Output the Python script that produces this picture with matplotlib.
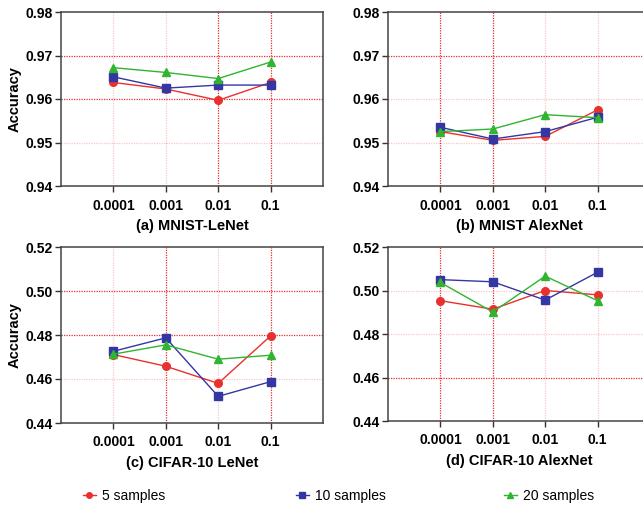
import matplotlib
matplotlib.use("Agg")
import matplotlib.pyplot as plt
from matplotlib.lines import Line2D

plt.rcParams['font.family'] = ['Liberation Sans', 'DejaVu Sans']

lr_labels = ["0.0001", "0.001", "0.01", "0.1"]
series_names = ["5 samples", "10 samples", "20 samples"]

mnist_lenet_5 = [0.9638, 0.9623, 0.9597, 0.9638]
mnist_lenet_10 = [0.9651, 0.9625, 0.9632, 0.9632]
mnist_lenet_20 = [0.9672, 0.9661, 0.9647, 0.9685]

mnist_alex_5 = [0.9525, 0.9505, 0.9514, 0.9575]
mnist_alex_10 = [0.9535, 0.9508, 0.9525, 0.9558]
mnist_alex_20 = [0.9525, 0.9531, 0.9564, 0.9557]

cifar_lenet_5 = [0.4711, 0.4658, 0.4580, 0.4796]
cifar_lenet_10 = [0.4726, 0.4787, 0.4521, 0.4588]
cifar_lenet_20 = [0.4713, 0.4755, 0.4690, 0.4708]

cifar_alex_5 = [0.4953, 0.4914, 0.5000, 0.4980]
cifar_alex_10 = [0.5050, 0.5040, 0.4956, 0.5084]
cifar_alex_20 = [0.5037, 0.4901, 0.5066, 0.4953]

titles = ["(a) MNIST-LeNet", "(b) MNIST AlexNet", "(c) CIFAR-10 LeNet", "(d) CIFAR-10 AlexNet"]

colors = ["#e8302e", "#3436a3", "#2fb52f"]
markers = ["o", "s", "^"]
msizes = [5.5, 5.5, 5.5]

W, H = 643, 508
fig = plt.figure(figsize=(W / 100, H / 100), dpi=100)

def px_axes(left, right, top, bottom):
    return fig.add_axes([left / W, (H - bottom) / H, (right - left) / W, (bottom - top) / H])

panels = [
    dict(pos=(61, 323, 12, 186), data=[mnist_lenet_5, mnist_lenet_10, mnist_lenet_20],
         yticks=[0.94, 0.95, 0.96, 0.97, 0.98], fmt="{:.2f}", ylabel=True,
         hstrong=[0.96, 0.97], vstrong=[2, 3]),
    dict(pos=(388, 650, 12, 186), data=[mnist_alex_5, mnist_alex_10, mnist_alex_20],
         yticks=[0.94, 0.95, 0.96, 0.97, 0.98], fmt="{:.2f}", ylabel=False,
         hstrong=[0.97], vstrong=[0, 1]),
    dict(pos=(61, 323, 247, 423), data=[cifar_lenet_5, cifar_lenet_10, cifar_lenet_20],
         yticks=[0.44, 0.46, 0.48, 0.50, 0.52], fmt="{:.2f}", ylabel=True,
         hstrong=[0.48, 0.50], vstrong=[1, 3]),
    dict(pos=(388, 650, 247, 421), data=[cifar_alex_5, cifar_alex_10, cifar_alex_20],
         yticks=[0.44, 0.46, 0.48, 0.50, 0.52], fmt="{:.2f}", ylabel=False,
         hstrong=[0.46], vstrong=[0, 1]),
]

xs = list(range(len(lr_labels)))
for p, title in zip(panels, titles):
    ax = px_axes(*p["pos"])
    yt = p["yticks"]
    ax.set_xlim(-1, 4)
    ax.set_ylim(yt[0], yt[-1])
    for y in yt[1:-1]:
        strong = any(abs(y - s) < 1e-9 for s in p["hstrong"])
        ax.axhline(y, color="#e82020", lw=0.9, ls=(0, (1, 1)),
                   alpha=0.95 if strong else 0.25, zorder=1)
    for x in xs:
        strong = x in p["vstrong"]
        ax.axvline(x, color="#e82020", lw=0.9, ls=(0, (1, 1)),
                   alpha=0.95 if strong else 0.25, zorder=1)
    for vals, c, m, ms in zip(p["data"], colors, markers, msizes):
        ax.plot(xs, vals, color=c, marker=m, markersize=ms, lw=1.0, zorder=3)
    ax.set_xticks(xs)
    ax.set_xticklabels(lr_labels, fontweight="bold", fontsize=10)
    ax.set_yticks(yt)
    ax.set_yticklabels([p["fmt"].format(v) for v in yt], fontweight="bold", fontsize=10)
    ax.tick_params(axis="both", direction="out", length=4, width=1.0, color="#333333", pad=2)
    ax.tick_params(axis="x", pad=5)
    for s in ax.spines.values():
        s.set_color("#444444")
        s.set_linewidth(1.1)
    ax.set_xlabel(title, fontweight="bold", fontsize=10.5, labelpad=5)
    if p["ylabel"]:
        ax.set_ylabel("Accuracy", fontweight="bold", fontsize=10.5, labelpad=3)

legend_x = [83, 296, 504]
for name, c, m, lx in zip(series_names, colors, markers, legend_x):
    h = Line2D([], [], color=c, marker=m, markersize=4, lw=1.0)
    fig.legend([h], [name], loc="center left", bbox_to_anchor=(lx / W, (H - 496) / H),
               frameon=False, fontsize=10, handlelength=0.9, handletextpad=0.5,
               borderaxespad=0, borderpad=0)

fig.savefig("out.png", dpi=100)
